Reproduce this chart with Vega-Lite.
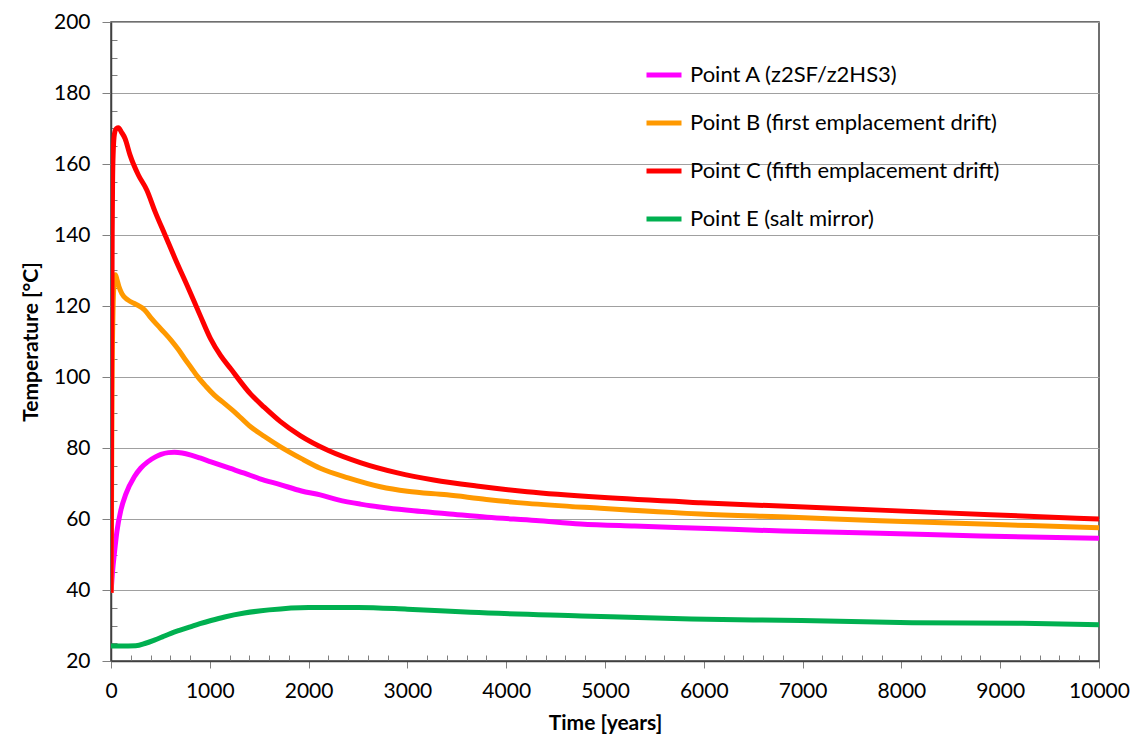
{
  "$schema": "https://vega.github.io/schema/vega-lite/v6.json",
  "width": 988,
  "height": 639,
  "autosize": {"type": "none"},
  "padding": {"left": 111, "top": 22, "right": 40, "bottom": 74},
  "background": "white",
  "config": {
    "font": "Lato",
    "view": {"stroke": "#404040", "strokeWidth": 1.5}
  },
  "data": {"values": [
    {"s": "Point A (z2SF/z2HS3)", "t": 0, "T": 39.2},
    {"s": "Point A (z2SF/z2HS3)", "t": 15, "T": 45},
    {"s": "Point A (z2SF/z2HS3)", "t": 35, "T": 50.5},
    {"s": "Point A (z2SF/z2HS3)", "t": 60, "T": 56.5},
    {"s": "Point A (z2SF/z2HS3)", "t": 100, "T": 62.5},
    {"s": "Point A (z2SF/z2HS3)", "t": 150, "T": 67},
    {"s": "Point A (z2SF/z2HS3)", "t": 236, "T": 71.9},
    {"s": "Point A (z2SF/z2HS3)", "t": 300, "T": 74.3},
    {"s": "Point A (z2SF/z2HS3)", "t": 371, "T": 76.1},
    {"s": "Point A (z2SF/z2HS3)", "t": 450, "T": 77.5},
    {"s": "Point A (z2SF/z2HS3)", "t": 506, "T": 78.2},
    {"s": "Point A (z2SF/z2HS3)", "t": 580, "T": 78.7},
    {"s": "Point A (z2SF/z2HS3)", "t": 641, "T": 78.8},
    {"s": "Point A (z2SF/z2HS3)", "t": 720, "T": 78.6},
    {"s": "Point A (z2SF/z2HS3)", "t": 810, "T": 78.0},
    {"s": "Point A (z2SF/z2HS3)", "t": 900, "T": 77.2},
    {"s": "Point A (z2SF/z2HS3)", "t": 1012, "T": 76.1},
    {"s": "Point A (z2SF/z2HS3)", "t": 1200, "T": 74.3},
    {"s": "Point A (z2SF/z2HS3)", "t": 1350, "T": 72.9},
    {"s": "Point A (z2SF/z2HS3)", "t": 1500, "T": 71.4},
    {"s": "Point A (z2SF/z2HS3)", "t": 1712, "T": 69.7},
    {"s": "Point A (z2SF/z2HS3)", "t": 1928, "T": 67.9},
    {"s": "Point A (z2SF/z2HS3)", "t": 2118, "T": 66.8},
    {"s": "Point A (z2SF/z2HS3)", "t": 2300, "T": 65.4},
    {"s": "Point A (z2SF/z2HS3)", "t": 2523, "T": 64.2},
    {"s": "Point A (z2SF/z2HS3)", "t": 2800, "T": 63.1},
    {"s": "Point A (z2SF/z2HS3)", "t": 3063, "T": 62.3},
    {"s": "Point A (z2SF/z2HS3)", "t": 3400, "T": 61.5},
    {"s": "Point A (z2SF/z2HS3)", "t": 3807, "T": 60.5},
    {"s": "Point A (z2SF/z2HS3)", "t": 4300, "T": 59.6},
    {"s": "Point A (z2SF/z2HS3)", "t": 4752, "T": 58.6},
    {"s": "Point A (z2SF/z2HS3)", "t": 5300, "T": 58.0},
    {"s": "Point A (z2SF/z2HS3)", "t": 5968, "T": 57.4},
    {"s": "Point A (z2SF/z2HS3)", "t": 6800, "T": 56.6},
    {"s": "Point A (z2SF/z2HS3)", "t": 7784, "T": 56.0},
    {"s": "Point A (z2SF/z2HS3)", "t": 8800, "T": 55.2},
    {"s": "Point A (z2SF/z2HS3)", "t": 10000, "T": 54.6},

    {"s": "Point B (first emplacement drift)", "t": 0, "T": 39.2},
    {"s": "Point B (first emplacement drift)", "t": 5, "T": 60},
    {"s": "Point B (first emplacement drift)", "t": 10, "T": 95},
    {"s": "Point B (first emplacement drift)", "t": 20, "T": 118},
    {"s": "Point B (first emplacement drift)", "t": 30, "T": 126},
    {"s": "Point B (first emplacement drift)", "t": 45, "T": 128.8},
    {"s": "Point B (first emplacement drift)", "t": 60, "T": 127.5},
    {"s": "Point B (first emplacement drift)", "t": 80, "T": 125.5},
    {"s": "Point B (first emplacement drift)", "t": 110, "T": 123.5},
    {"s": "Point B (first emplacement drift)", "t": 170, "T": 121.7},
    {"s": "Point B (first emplacement drift)", "t": 250, "T": 120.5},
    {"s": "Point B (first emplacement drift)", "t": 340, "T": 118.9},
    {"s": "Point B (first emplacement drift)", "t": 400, "T": 116.8},
    {"s": "Point B (first emplacement drift)", "t": 470, "T": 114.6},
    {"s": "Point B (first emplacement drift)", "t": 540, "T": 112.5},
    {"s": "Point B (first emplacement drift)", "t": 607, "T": 110.4},
    {"s": "Point B (first emplacement drift)", "t": 680, "T": 107.8},
    {"s": "Point B (first emplacement drift)", "t": 742, "T": 105.3},
    {"s": "Point B (first emplacement drift)", "t": 810, "T": 102.7},
    {"s": "Point B (first emplacement drift)", "t": 877, "T": 100.1},
    {"s": "Point B (first emplacement drift)", "t": 960, "T": 97.4},
    {"s": "Point B (first emplacement drift)", "t": 1046, "T": 94.9},
    {"s": "Point B (first emplacement drift)", "t": 1150, "T": 92.5},
    {"s": "Point B (first emplacement drift)", "t": 1249, "T": 90.2},
    {"s": "Point B (first emplacement drift)", "t": 1416, "T": 85.9},
    {"s": "Point B (first emplacement drift)", "t": 1550, "T": 83.3},
    {"s": "Point B (first emplacement drift)", "t": 1712, "T": 80.4},
    {"s": "Point B (first emplacement drift)", "t": 1928, "T": 77.0},
    {"s": "Point B (first emplacement drift)", "t": 2118, "T": 74.3},
    {"s": "Point B (first emplacement drift)", "t": 2400, "T": 71.6},
    {"s": "Point B (first emplacement drift)", "t": 2726, "T": 69.1},
    {"s": "Point B (first emplacement drift)", "t": 3000, "T": 67.8},
    {"s": "Point B (first emplacement drift)", "t": 3401, "T": 66.8},
    {"s": "Point B (first emplacement drift)", "t": 3800, "T": 65.5},
    {"s": "Point B (first emplacement drift)", "t": 4212, "T": 64.4},
    {"s": "Point B (first emplacement drift)", "t": 4954, "T": 63.0},
    {"s": "Point B (first emplacement drift)", "t": 5968, "T": 61.4},
    {"s": "Point B (first emplacement drift)", "t": 6900, "T": 60.5},
    {"s": "Point B (first emplacement drift)", "t": 7784, "T": 59.5},
    {"s": "Point B (first emplacement drift)", "t": 8900, "T": 58.5},
    {"s": "Point B (first emplacement drift)", "t": 10000, "T": 57.5},

    {"s": "Point C (fifth emplacement drift)", "t": 0, "T": 39.2},
    {"s": "Point C (fifth emplacement drift)", "t": 4, "T": 70},
    {"s": "Point C (fifth emplacement drift)", "t": 8, "T": 110},
    {"s": "Point C (fifth emplacement drift)", "t": 12, "T": 140},
    {"s": "Point C (fifth emplacement drift)", "t": 16, "T": 155},
    {"s": "Point C (fifth emplacement drift)", "t": 22, "T": 163},
    {"s": "Point C (fifth emplacement drift)", "t": 35, "T": 168.5},
    {"s": "Point C (fifth emplacement drift)", "t": 55, "T": 170},
    {"s": "Point C (fifth emplacement drift)", "t": 75, "T": 170.2},
    {"s": "Point C (fifth emplacement drift)", "t": 105, "T": 169},
    {"s": "Point C (fifth emplacement drift)", "t": 142, "T": 167.2},
    {"s": "Point C (fifth emplacement drift)", "t": 193, "T": 162.5},
    {"s": "Point C (fifth emplacement drift)", "t": 277, "T": 156.9},
    {"s": "Point C (fifth emplacement drift)", "t": 362, "T": 152.7},
    {"s": "Point C (fifth emplacement drift)", "t": 446, "T": 146.6},
    {"s": "Point C (fifth emplacement drift)", "t": 547, "T": 140},
    {"s": "Point C (fifth emplacement drift)", "t": 648, "T": 133.4},
    {"s": "Point C (fifth emplacement drift)", "t": 783, "T": 125},
    {"s": "Point C (fifth emplacement drift)", "t": 900, "T": 117.5},
    {"s": "Point C (fifth emplacement drift)", "t": 1007, "T": 110.8},
    {"s": "Point C (fifth emplacement drift)", "t": 1110, "T": 106},
    {"s": "Point C (fifth emplacement drift)", "t": 1212, "T": 102.3},
    {"s": "Point C (fifth emplacement drift)", "t": 1416, "T": 95.1},
    {"s": "Point C (fifth emplacement drift)", "t": 1550, "T": 91.5},
    {"s": "Point C (fifth emplacement drift)", "t": 1712, "T": 87.5},
    {"s": "Point C (fifth emplacement drift)", "t": 1915, "T": 83.5},
    {"s": "Point C (fifth emplacement drift)", "t": 2200, "T": 79.3},
    {"s": "Point C (fifth emplacement drift)", "t": 2523, "T": 75.9},
    {"s": "Point C (fifth emplacement drift)", "t": 2900, "T": 73.0},
    {"s": "Point C (fifth emplacement drift)", "t": 3266, "T": 71.0},
    {"s": "Point C (fifth emplacement drift)", "t": 3700, "T": 69.3},
    {"s": "Point C (fifth emplacement drift)", "t": 4212, "T": 67.7},
    {"s": "Point C (fifth emplacement drift)", "t": 4954, "T": 66.1},
    {"s": "Point C (fifth emplacement drift)", "t": 5968, "T": 64.6},
    {"s": "Point C (fifth emplacement drift)", "t": 6900, "T": 63.5},
    {"s": "Point C (fifth emplacement drift)", "t": 7784, "T": 62.5},
    {"s": "Point C (fifth emplacement drift)", "t": 8900, "T": 61.2},
    {"s": "Point C (fifth emplacement drift)", "t": 10000, "T": 60.0},

    {"s": "Point E (salt mirror)", "t": 0, "T": 24.2},
    {"s": "Point E (salt mirror)", "t": 100, "T": 24.2},
    {"s": "Point E (salt mirror)", "t": 250, "T": 24.3},
    {"s": "Point E (salt mirror)", "t": 350, "T": 25.0},
    {"s": "Point E (salt mirror)", "t": 439, "T": 25.9},
    {"s": "Point E (salt mirror)", "t": 520, "T": 26.8},
    {"s": "Point E (salt mirror)", "t": 607, "T": 27.8},
    {"s": "Point E (salt mirror)", "t": 700, "T": 28.7},
    {"s": "Point E (salt mirror)", "t": 810, "T": 29.7},
    {"s": "Point E (salt mirror)", "t": 900, "T": 30.5},
    {"s": "Point E (salt mirror)", "t": 1012, "T": 31.4},
    {"s": "Point E (salt mirror)", "t": 1150, "T": 32.4},
    {"s": "Point E (salt mirror)", "t": 1350, "T": 33.5},
    {"s": "Point E (salt mirror)", "t": 1600, "T": 34.4},
    {"s": "Point E (salt mirror)", "t": 2000, "T": 35.1},
    {"s": "Point E (salt mirror)", "t": 2500, "T": 35.1},
    {"s": "Point E (salt mirror)", "t": 3000, "T": 34.6},
    {"s": "Point E (salt mirror)", "t": 3640, "T": 33.7},
    {"s": "Point E (salt mirror)", "t": 4757, "T": 32.7},
    {"s": "Point E (salt mirror)", "t": 5874, "T": 31.8},
    {"s": "Point E (salt mirror)", "t": 6991, "T": 31.4},
    {"s": "Point E (salt mirror)", "t": 8108, "T": 30.8},
    {"s": "Point E (salt mirror)", "t": 9226, "T": 30.6},
    {"s": "Point E (salt mirror)", "t": 10000, "T": 30.2}
  ]},
  "mark": {"type": "line", "strokeWidth": 5, "interpolate": "monotone", "strokeJoin": "round", "clip": true},
  "encoding": {
    "x": {
      "field": "t", "type": "quantitative",
      "scale": {"domain": [0, 10000], "nice": false},
      "axis": {
        "title": "Time [years]",
        "titleFont": "Lato", "titleFontSize": 21, "titleFontWeight": "bold", "titleColor": "#000",
        "titlePadding": 11,
        "values": [0,200,400,600,800,1000,1200,1400,1600,1800,2000,2200,2400,2600,2800,3000,3200,3400,3600,3800,4000,4200,4400,4600,4800,5000,5200,5400,5600,5800,6000,6200,6400,6600,6800,7000,7200,7400,7600,7800,8000,8200,8400,8600,8800,9000,9200,9400,9600,9800,10000],
        "labelExpr": "datum.value % 1000 === 0 ? format(datum.value, 'd') : ''",
        "labelOverlap": false,
        "labelFont": "Lato", "labelFontSize": 21, "labelColor": "#000",
        "labelPadding": 12,
        "labelFlush": false,
        "grid": false,
        "domainColor": "#404040", "domainWidth": 1.5,
        "tickColor": "#808080", "tickWidth": 1,
        "tickSize": {"condition": {"test": "datum.value % 1000 === 0", "value": 7}, "value": -6}
      }
    },
    "y": {
      "field": "T", "type": "quantitative",
      "scale": {"domain": [20, 200], "nice": false, "zero": false},
      "axis": {
        "title": "Temperature [°C]",
        "titleFont": "Lato", "titleFontSize": 21, "titleFontWeight": "bold", "titleColor": "#000",
        "titlePadding": 12,
        "values": [20,25,30,35,40,45,50,55,60,65,70,75,80,85,90,95,100,105,110,115,120,125,130,135,140,145,150,155,160,165,170,175,180,185,190,195,200],
        "labelExpr": "datum.value % 20 === 0 ? datum.label : ''",
        "labelOverlap": false,
        "labelFont": "Lato", "labelFontSize": 21, "labelColor": "#000",
        "labelPadding": 12,
        "labelFlush": false,
        "grid": true,
        "gridColor": "#a0a0a0", "gridWidth": 1.2,
        "gridOpacity": {"condition": {"test": "datum.value % 20 === 0", "value": 1}, "value": 0},
        "domainColor": "#404040", "domainWidth": 1.5,
        "tickColor": "#808080", "tickWidth": 1,
        "tickSize": {"condition": {"test": "datum.value % 20 === 0", "value": 9}, "value": -6}
      }
    },
    "color": {
      "field": "s", "type": "nominal",
      "scale": {
        "domain": ["Point A (z2SF/z2HS3)", "Point B (first emplacement drift)", "Point C (fifth emplacement drift)", "Point E (salt mirror)"],
        "range": ["#ff00ff", "#ff9900", "#ff0000", "#00b050"]
      },
      "legend": {
        "title": null,
        "orient": "none",
        "legendX": 533,
        "legendY": 33,
        "symbolType": "stroke",
        "symbolSize": 1225,
        "symbolStrokeWidth": 5,
        "labelFont": "Lato", "labelFontSize": 22, "labelColor": "#000",
        "labelOffset": 6,
        "labelLimit": 500,
        "rowPadding": 17
      }
    }
  }
}
